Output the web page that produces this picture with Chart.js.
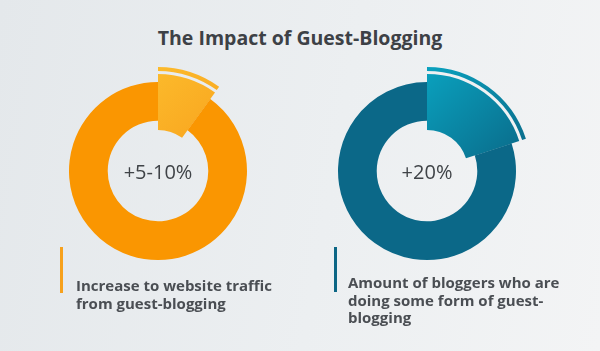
<!DOCTYPE html>
<html>
<head>
<meta charset="utf-8">
<script src="https://cdn.jsdelivr.net/npm/chart.js@4/dist/chart.umd.min.js"></script>
<style>
  html, body { margin: 0; padding: 0; }
  body {
    width: 600px; height: 351px; overflow: hidden; position: relative;
    background: linear-gradient(100deg, #e4e8eb 0%, #eceff1 55%, #f3f4f5 100%);
    font-family: 'Open Sans', sans-serif; color: #3f4347;
  }
  .title {
    position: absolute; left: 0; top: 24px; width: 600px; text-align: center;
    font-size: 19.5px; font-weight: 700; color: #3d4146;
  }
  .chart { position: absolute; width: 240px; height: 240px; }
  .chart canvas { position: absolute; left: 0; top: 0; }
  .center {
    position: absolute; width: 120px; text-align: center; font-size: 20px;
    color: #3f4347; line-height: 24px;
  }
  .label {
    position: absolute; font-size: 15px; font-weight: 700; line-height: 17.5px; color: #4a4e53;
  }
  .bar { position: absolute; width: 3px; }
</style>
</head>
<body>
<div class="title">The Impact of Guest-Blogging</div>

<div class="chart" style="left:38px; top:51px;">
  <canvas id="ringA" width="240" height="240"></canvas>
  <canvas id="sliceA" width="240" height="240"></canvas>
</div>
<div class="chart" style="left:307px; top:51px;">
  <canvas id="ringB" width="240" height="240"></canvas>
  <canvas id="sliceB" width="240" height="240"></canvas>
</div>

<div class="center" style="left:98px; top:160px;">+5-10%</div>
<div class="center" style="left:367px; top:160px;">+20%</div>

<div class="bar" style="left:60px; top:247px; height:46px; background:#f7a11c;"></div>
<div class="label" style="left:76px; top:277px;">Increase to website traffic<br>from guest-blogging</div>

<div class="bar" style="left:334px; top:247px; height:45px; background:#0c6685;"></div>
<div class="label" style="left:348px; top:274px;">Amount of bloggers who are<br>doing some form of guest-<br>blogging</div>

<script>
// ---------- data ----------
const stats = ['+5-10%', '+20%'];
const slicePercent = [10, 20];
const ringColors = ['#fa9601', '#0b6888'];
const sliceLight = ['#fcbb2c', '#0aa3c0'];
const sliceDark = ['#f79a18', '#0a6584'];

function sliceGradient(chart, light, dark) {
  const ctx = chart.ctx;
  const cx = chart.width / 2, cy = chart.height / 2;
  const g = ctx.createLinearGradient(cx - 10, cy - 100, cx + 90, cy + 10);
  g.addColorStop(0, light);
  g.addColorStop(1, dark);
  return g;
}

const baseOptions = {
  responsive: false,
  animation: false,
  events: [],
  plugins: { legend: { display: false }, tooltip: { enabled: false } }
};

function createRing(canvasId, value, color) {
  return new Chart(document.getElementById(canvasId), {
    type: 'doughnut',
    data: {
      labels: ['value', 'rest'],
      datasets: [{ data: [value, 100 - value], backgroundColor: [color, color], borderWidth: 0 }]
    },
    options: { ...baseOptions, radius: 89, cutout: '56.5%' }
  });
}

function createSlice(canvasId, value, light, dark) {
  const fill = (c) => c.dataIndex === 0 ? sliceGradient(c.chart, light, dark) : 'rgba(0,0,0,0)';
  return new Chart(document.getElementById(canvasId), {
    type: 'doughnut',
    data: {
      labels: ['value', 'rest'],
      datasets: [
        { data: [value, 100 - value], backgroundColor: fill, borderWidth: 0, weight: 4 },
        { data: [value, 100 - value], backgroundColor: 'rgba(0,0,0,0)', borderWidth: 0, weight: 3 },
        { data: [value, 100 - value], backgroundColor: fill, borderWidth: 0, weight: 56 }
      ]
    },
    options: { ...baseOptions, radius: 104, cutout: '39.4%' }
  });
}

createRing('ringA', slicePercent[0], ringColors[0]);
createSlice('sliceA', slicePercent[0], sliceLight[0], sliceDark[0]);
createRing('ringB', slicePercent[1], ringColors[1]);
createSlice('sliceB', slicePercent[1], sliceLight[1], sliceDark[1]);
</script>
</body>
</html>
